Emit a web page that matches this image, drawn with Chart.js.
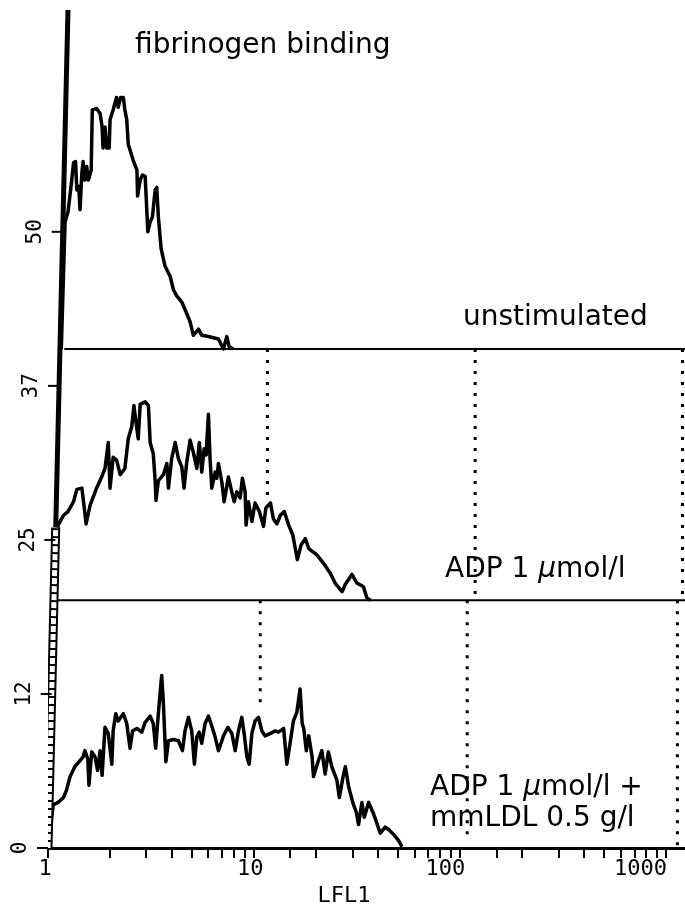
<!DOCTYPE html>
<html>
<head>
<meta charset="utf-8">
<script src="https://cdn.jsdelivr.net/npm/chart.js@4.4.1/dist/chart.umd.min.js"></script>
<style>
  body { margin: 0; background: #fff; }
  canvas { display: block; }
</style>
</head>
<body>
<canvas id="grafico" width="685" height="912"></canvas>
<script>
// LFL1 channel (log) and event counts
const unstimLFL = [1.16, 1.21, 1.25, 1.30, 1.33, 1.36, 1.38, 1.41, 1.43, 1.46, 1.48, 1.51, 1.54, 1.57, 1.62, 1.64, 1.72, 1.79, 1.83, 1.85, 1.89, 1.93, 1.98, 2.00, 2.07, 2.15, 2.19, 2.25, 2.32, 2.36, 2.41, 2.45, 2.59, 2.70, 2.72, 2.80, 2.87, 2.96, 3.05, 3.13, 3.21, 3.31, 3.37, 3.43, 3.54, 3.70, 3.91, 4.06, 4.21, 4.46, 4.62, 4.89, 5.07, 5.37, 5.57, 6.00, 6.71, 7.10, 7.37, 7.56, 7.91];
const unstimCount = [0, 10.3, 11.1, 13.5, 15.1, 15.2, 12.9, 13.2, 11.3, 14.3, 15.2, 13.7, 14.8, 13.7, 14.5, 19.4, 19.5, 19.1, 18.0, 16.3, 18.0, 16.3, 16.3, 18.6, 19.4, 20.4, 19.6, 20.4, 20.4, 19.4, 18.6, 16.6, 15.3, 14.5, 12.4, 13.7, 14.1, 14.0, 9.5, 10.3, 10.7, 12.9, 13.1, 10.7, 8.1, 6.7, 5.9, 4.8, 4.3, 3.8, 3.2, 2.2, 1.1, 1.6, 1.1, 1.0, 0.8, 0, 1.0, 0.2, 0];

const adpLFL = [1.09, 1.12, 1.19, 1.25, 1.33, 1.38, 1.46, 1.48, 1.53, 1.60, 1.72, 1.82, 1.89, 1.96, 2.00, 2.07, 2.15, 2.24, 2.36, 2.45, 2.55, 2.61, 2.67, 2.74, 2.80, 2.96, 3.07, 3.13, 3.24, 3.31, 3.34, 3.43, 3.63, 3.77, 3.84, 3.98, 4.14, 4.29, 4.46, 4.57, 4.71, 4.89, 5.07, 5.27, 5.42, 5.57, 5.72, 5.85, 6.00, 6.11, 6.23, 6.47, 6.59, 6.71, 6.97, 7.15, 7.50, 7.79, 8.00, 8.24, 8.55, 8.77, 9.04, 9.14, 9.38, 9.75, 10.1, 10.6, 11.1, 11.4, 12.0, 12.4, 12.9, 13.4, 14.0, 14.7, 15.4, 16.2, 16.9, 17.7, 18.4, 20.1, 21.7, 23.4, 24.7, 26.7, 27.7, 29.8, 31.5, 33.9, 35.2, 36.6];
const adpCount = [0, 6.1, 6.9, 7.2, 8.0, 9.0, 9.1, 8.3, 6.2, 7.7, 9.1, 10.0, 10.7, 12.8, 9.1, 11.6, 11.4, 10.2, 10.7, 13.1, 14.1, 15.8, 14.5, 13.1, 15.9, 16.1, 15.8, 12.8, 11.9, 9.7, 8.1, 9.7, 10.2, 11.1, 9.1, 11.5, 12.8, 11.5, 10.8, 9.1, 11.2, 13.0, 12.0, 10.7, 12.8, 10.4, 12.3, 11.8, 15.1, 11.5, 9.1, 10.4, 9.9, 11.1, 9.6, 8.0, 10.0, 8.8, 8.0, 8.8, 8.3, 9.9, 8.8, 6.1, 8.0, 6.4, 7.9, 7.2, 6.0, 7.5, 7.9, 6.6, 6.2, 6.9, 7.2, 6.1, 5.3, 3.3, 4.5, 5.0, 4.2, 3.7, 3.0, 2.2, 1.4, 0.7, 1.3, 2.1, 1.4, 1.1, 0.2, 0];

const ldlLFL = [1.00, 1.06, 1.12, 1.19, 1.23, 1.28, 1.35, 1.43, 1.48, 1.51, 1.56, 1.58, 1.63, 1.69, 1.74, 1.79, 1.83, 1.89, 1.96, 2.04, 2.07, 2.13, 2.19, 2.32, 2.41, 2.50, 2.57, 2.70, 2.85, 2.96, 3.13, 3.24, 3.33, 3.43, 3.56, 3.63, 3.73, 3.84, 4.06, 4.29, 4.49, 4.62, 4.80, 4.98, 5.13, 5.27, 5.41, 5.57, 5.78, 6.00, 6.23, 6.47, 6.71, 7.10, 7.45, 7.79, 8.09, 8.39, 8.71, 8.94, 9.22, 9.46, 9.75, 10.1, 10.5, 10.9, 11.3, 12.0, 12.6, 13.1, 13.9, 14.4, 15.0, 15.5, 16.1, 16.7, 17.1, 17.4, 17.9, 18.4, 19.1, 19.4, 20.5, 21.3, 22.1, 22.9, 23.8, 25.2, 25.9, 27.0, 27.7, 28.7, 30.2, 31.3, 32.1, 33.3, 34.2, 35.9, 37.9, 39.4, 40.9, 43.2, 44.9, 47.5, 50.2, 52.1];
const ldlCount = [0, 3.5, 3.7, 4.1, 4.7, 5.8, 6.6, 7.1, 7.4, 7.9, 7.2, 5.1, 7.8, 7.4, 6.3, 7.9, 5.9, 9.8, 9.3, 6.8, 9.5, 10.9, 10.3, 10.9, 10.1, 8.1, 9.5, 9.7, 9.4, 10.2, 10.7, 10.1, 8.1, 10.9, 14.0, 11.7, 7.0, 8.7, 8.8, 8.7, 7.9, 9.5, 10.6, 9.5, 6.8, 9.0, 9.4, 8.5, 10.1, 10.7, 9.9, 9.0, 7.9, 9.1, 9.8, 9.3, 7.9, 9.5, 10.6, 9.3, 7.4, 6.8, 9.3, 10.3, 10.6, 9.5, 9.1, 9.3, 9.5, 9.4, 9.7, 6.8, 8.7, 10.3, 11.0, 12.9, 10.1, 9.7, 7.9, 9.1, 7.4, 5.8, 7.1, 7.9, 6.0, 7.8, 6.6, 5.5, 4.1, 5.8, 6.6, 5.0, 3.6, 2.9, 1.9, 3.7, 2.5, 3.7, 2.8, 2.0, 1.2, 1.7, 1.5, 1.1, 0.6, 0.1];

// vertical offset of each panel baseline (top, middle, bottom)
const panelOffsets = [40.5, 20.1, 0];

// gate markers (LFL1) and the count where each dotted line stops
const adpGates = [11.6, 118, 1196];
const adpGateEnds = [28.4, 20.1, 20.1];
const ldlGates = [10.7, 108, 1130];
const ldlGateEnds = [11.6, 0.6, 0];

// hand drawn y axis of the original, slightly slanted
const yAxisLineLFL = [1.0, 1.09, 1.25];
const yAxisLineY = [0, 26, 68];

const yTickValues = [0, 12.5, 25, 37.5, 50];
const yTickLabels = ["0", "12", "25", "37", "50"];
const xTickLabels = [1, 10, 100, 1000];
// the printed x labels sit left of their ticks (px)
const xTickNudge = [-3, -4, -15, -26];

const captions = [
    { parts: [["fibrinogen binding", ""]], x: 135, y: 53 },
    { parts: [["unstimulated", ""]], x: 463, y: 325 },
    { parts: [["ADP 1 ", ""], ["\u03bc", "italic "], ["mol/l", ""]], x: 445, y: 577 },
    { parts: [["ADP 1 ", ""], ["\u03bc", "italic "], ["mol/l +", ""]], x: 430, y: 795 },
    { parts: [["mmLDL 0.5 g/l", ""]], x: 430, y: 826 }
];

const pts = (xs, ys, off) => xs.map((v, i) => ({ x: v, y: ys[i] + off }));
const linha = (data, extra) => Object.assign({
    data: data, borderColor: "#000", borderWidth: 3, pointRadius: 0,
    tension: 0, fill: false, borderJoinStyle: "round", order: 0
}, extra);

const datasets = [];

// panel baselines
datasets.push(linha([{ x: 1.2, y: panelOffsets[0] }, { x: 1230, y: panelOffsets[0] }], { borderWidth: 2 }));
datasets.push(linha([{ x: 1.1, y: panelOffsets[1] }, { x: 1230, y: panelOffsets[1] }], { borderWidth: 2 }));

// dotted gates
adpGates.forEach((g, i) => {
    datasets.push(linha([{ x: g, y: panelOffsets[0] }, { x: g, y: adpGateEnds[i] }], { borderDash: [3, 8] }));
});
ldlGates.forEach((g, i) => {
    datasets.push(linha([{ x: g, y: panelOffsets[1] }, { x: g, y: ldlGateEnds[i] }], { borderDash: [3, 8] }));
});

// histograms
datasets.push(linha(pts(unstimLFL, unstimCount, panelOffsets[0]), { borderWidth: 3.5 }));
datasets.push(linha(pts(adpLFL, adpCount, panelOffsets[1]), { borderWidth: 3.5 }));
datasets.push(linha(pts(ldlLFL, ldlCount, panelOffsets[2]), { borderWidth: 3.5 }));

// y axis: chain part at the bottom, solid part on top (lower order = drawn on top)
const eixoBaixo = [{ x: yAxisLineLFL[0], y: yAxisLineY[0] }, { x: yAxisLineLFL[1], y: yAxisLineY[1] }];
datasets.push(linha(eixoBaixo, { borderWidth: 9, order: -1 }));
datasets.push(linha(eixoBaixo, { borderWidth: 5, borderColor: "#fff", borderDash: [6, 2], order: -2 }));
datasets.push(linha([{ x: yAxisLineLFL[1], y: yAxisLineY[1] }, { x: yAxisLineLFL[2], y: yAxisLineY[2] }], { borderWidth: 5, order: -1 }));

const overlay = {
    id: "overlay",
    afterDraw(chart) {
        const ctx = chart.ctx;
        const x = chart.scales.x, y = chart.scales.y;
        const x0 = x.getPixelForValue(yAxisLineLFL[0]), y0 = y.getPixelForValue(yAxisLineY[0]);
        const x1 = x.getPixelForValue(yAxisLineLFL[2]), y1 = y.getPixelForValue(yAxisLineY[2]);
        const eixoEm = py => x0 + (x1 - x0) * (py - y0) / (y1 - y0);

        ctx.save();
        ctx.strokeStyle = "#000";
        ctx.fillStyle = "#000";
        ctx.lineWidth = 2;
        ctx.font = '21px "DejaVu Sans Mono"';
        ctx.textAlign = "center";
        ctx.textBaseline = "middle";
        yTickValues.forEach((v, i) => {
            const py = y.getPixelForValue(v);
            const ax = eixoEm(py);
            ctx.beginPath();
            ctx.moveTo(ax - 11, py);
            ctx.lineTo(ax, py);
            ctx.stroke();
            ctx.save();
            ctx.translate(ax - 27, py);
            ctx.rotate(-Math.PI / 2);
            ctx.fillText(yTickLabels[i], 0, 0);
            ctx.restore();
        });

        ctx.font = '22px "DejaVu Sans Mono"';
        xTickLabels.forEach((v, i) => {
            ctx.fillText(String(v), x.getPixelForValue(v) + xTickNudge[i], 869);
        });
        ctx.fillText("LFL1", 344, 896);

        ctx.textAlign = "left";
        ctx.textBaseline = "alphabetic";
        captions.forEach(c => {
            let px = c.x;
            c.parts.forEach(p => {
                ctx.font = p[1] + '28px "DejaVu Sans"';
                ctx.fillText(p[0], px, c.y);
                px += ctx.measureText(p[0]).width;
            });
        });
        ctx.restore();
    }
};

Chart.defaults.color = "#000";
Chart.defaults.font.family = "DejaVu Sans Mono";

new Chart(document.getElementById("grafico"), {
    type: "line",
    data: { datasets: datasets },
    options: {
        responsive: false,
        animation: false,
        layout: { padding: { left: 48, right: 0, top: 10, bottom: 0 } },
        plugins: { legend: { display: false }, tooltip: { enabled: false } },
        scales: {
            x: {
                type: "logarithmic",
                min: 1,
                max: 1230,
                afterBuildTicks: s => { s.ticks = s.ticks.filter(t => t.value <= 1000.001); },
                afterFit: s => { s.height = 64; s.paddingLeft = 0; s.paddingRight = 0; },
                grid: { display: true, drawOnChartArea: false, drawTicks: true, tickLength: 10, color: "#000", lineWidth: 2 },
                border: { display: true, color: "#000", width: 3 },
                ticks: { display: false, autoSkip: false, maxRotation: 0 }
            },
            y: {
                type: "linear",
                display: false,
                min: 0,
                max: 68
            }
        }
    },
    plugins: [overlay]
});
</script>
</body>
</html>
